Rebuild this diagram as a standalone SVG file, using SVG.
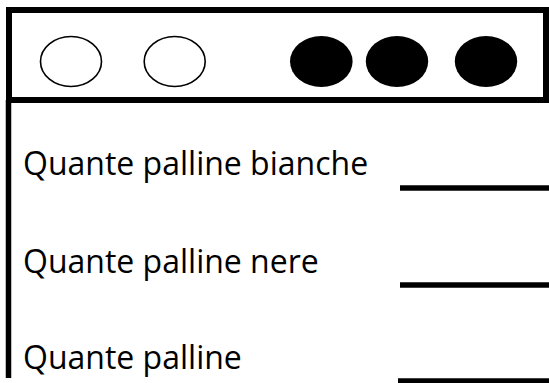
<svg xmlns="http://www.w3.org/2000/svg" width="549" height="383" viewBox="0 0 549 383">
<style>
.frame{fill:none;stroke:#000;stroke-width:6}
.bar{stroke:#000;stroke-width:5.5}
.white{fill:#fff;stroke:#000;stroke-width:1.6}
.black{fill:#000;stroke:none}
.lbl{font-family:"Open Sans","Noto Sans",sans-serif;font-size:32px;fill:#000}
</style>
<rect width="549" height="383" fill="#fff"/>
<g id="frame">
<rect class="frame" x="9" y="10" width="537" height="90"/>
<line class="bar" x1="8.5" y1="100" x2="8.5" y2="378" stroke-width="5"/>
</g>
<g id="balls">
<ellipse id="w1" class="white" cx="71" cy="61.5" rx="30.5" ry="25"/>
<ellipse id="w2" class="white" cx="174.7" cy="61.5" rx="30.5" ry="25"/>
<ellipse id="b1" class="black" cx="321.3" cy="61.5" rx="31.3" ry="25.5"/>
<ellipse id="b2" class="black" cx="397" cy="61.5" rx="31.2" ry="25.5"/>
<ellipse id="b3" class="black" cx="486" cy="61.5" rx="31.2" ry="25.5"/>
</g>
<g id="q1">
<text class="lbl" x="23" y="175">Quante palline bianche</text>
<line class="bar" x1="400" y1="188" x2="549" y2="188"/>
</g>
<g id="q2">
<text class="lbl" x="23" y="273">Quante palline nere</text>
<line class="bar" x1="400" y1="285" x2="549" y2="285"/>
</g>
<g id="q3">
<text class="lbl" x="23" y="369">Quante palline</text>
<line class="bar" x1="398" y1="381" x2="549" y2="381"/>
</g>
</svg>
